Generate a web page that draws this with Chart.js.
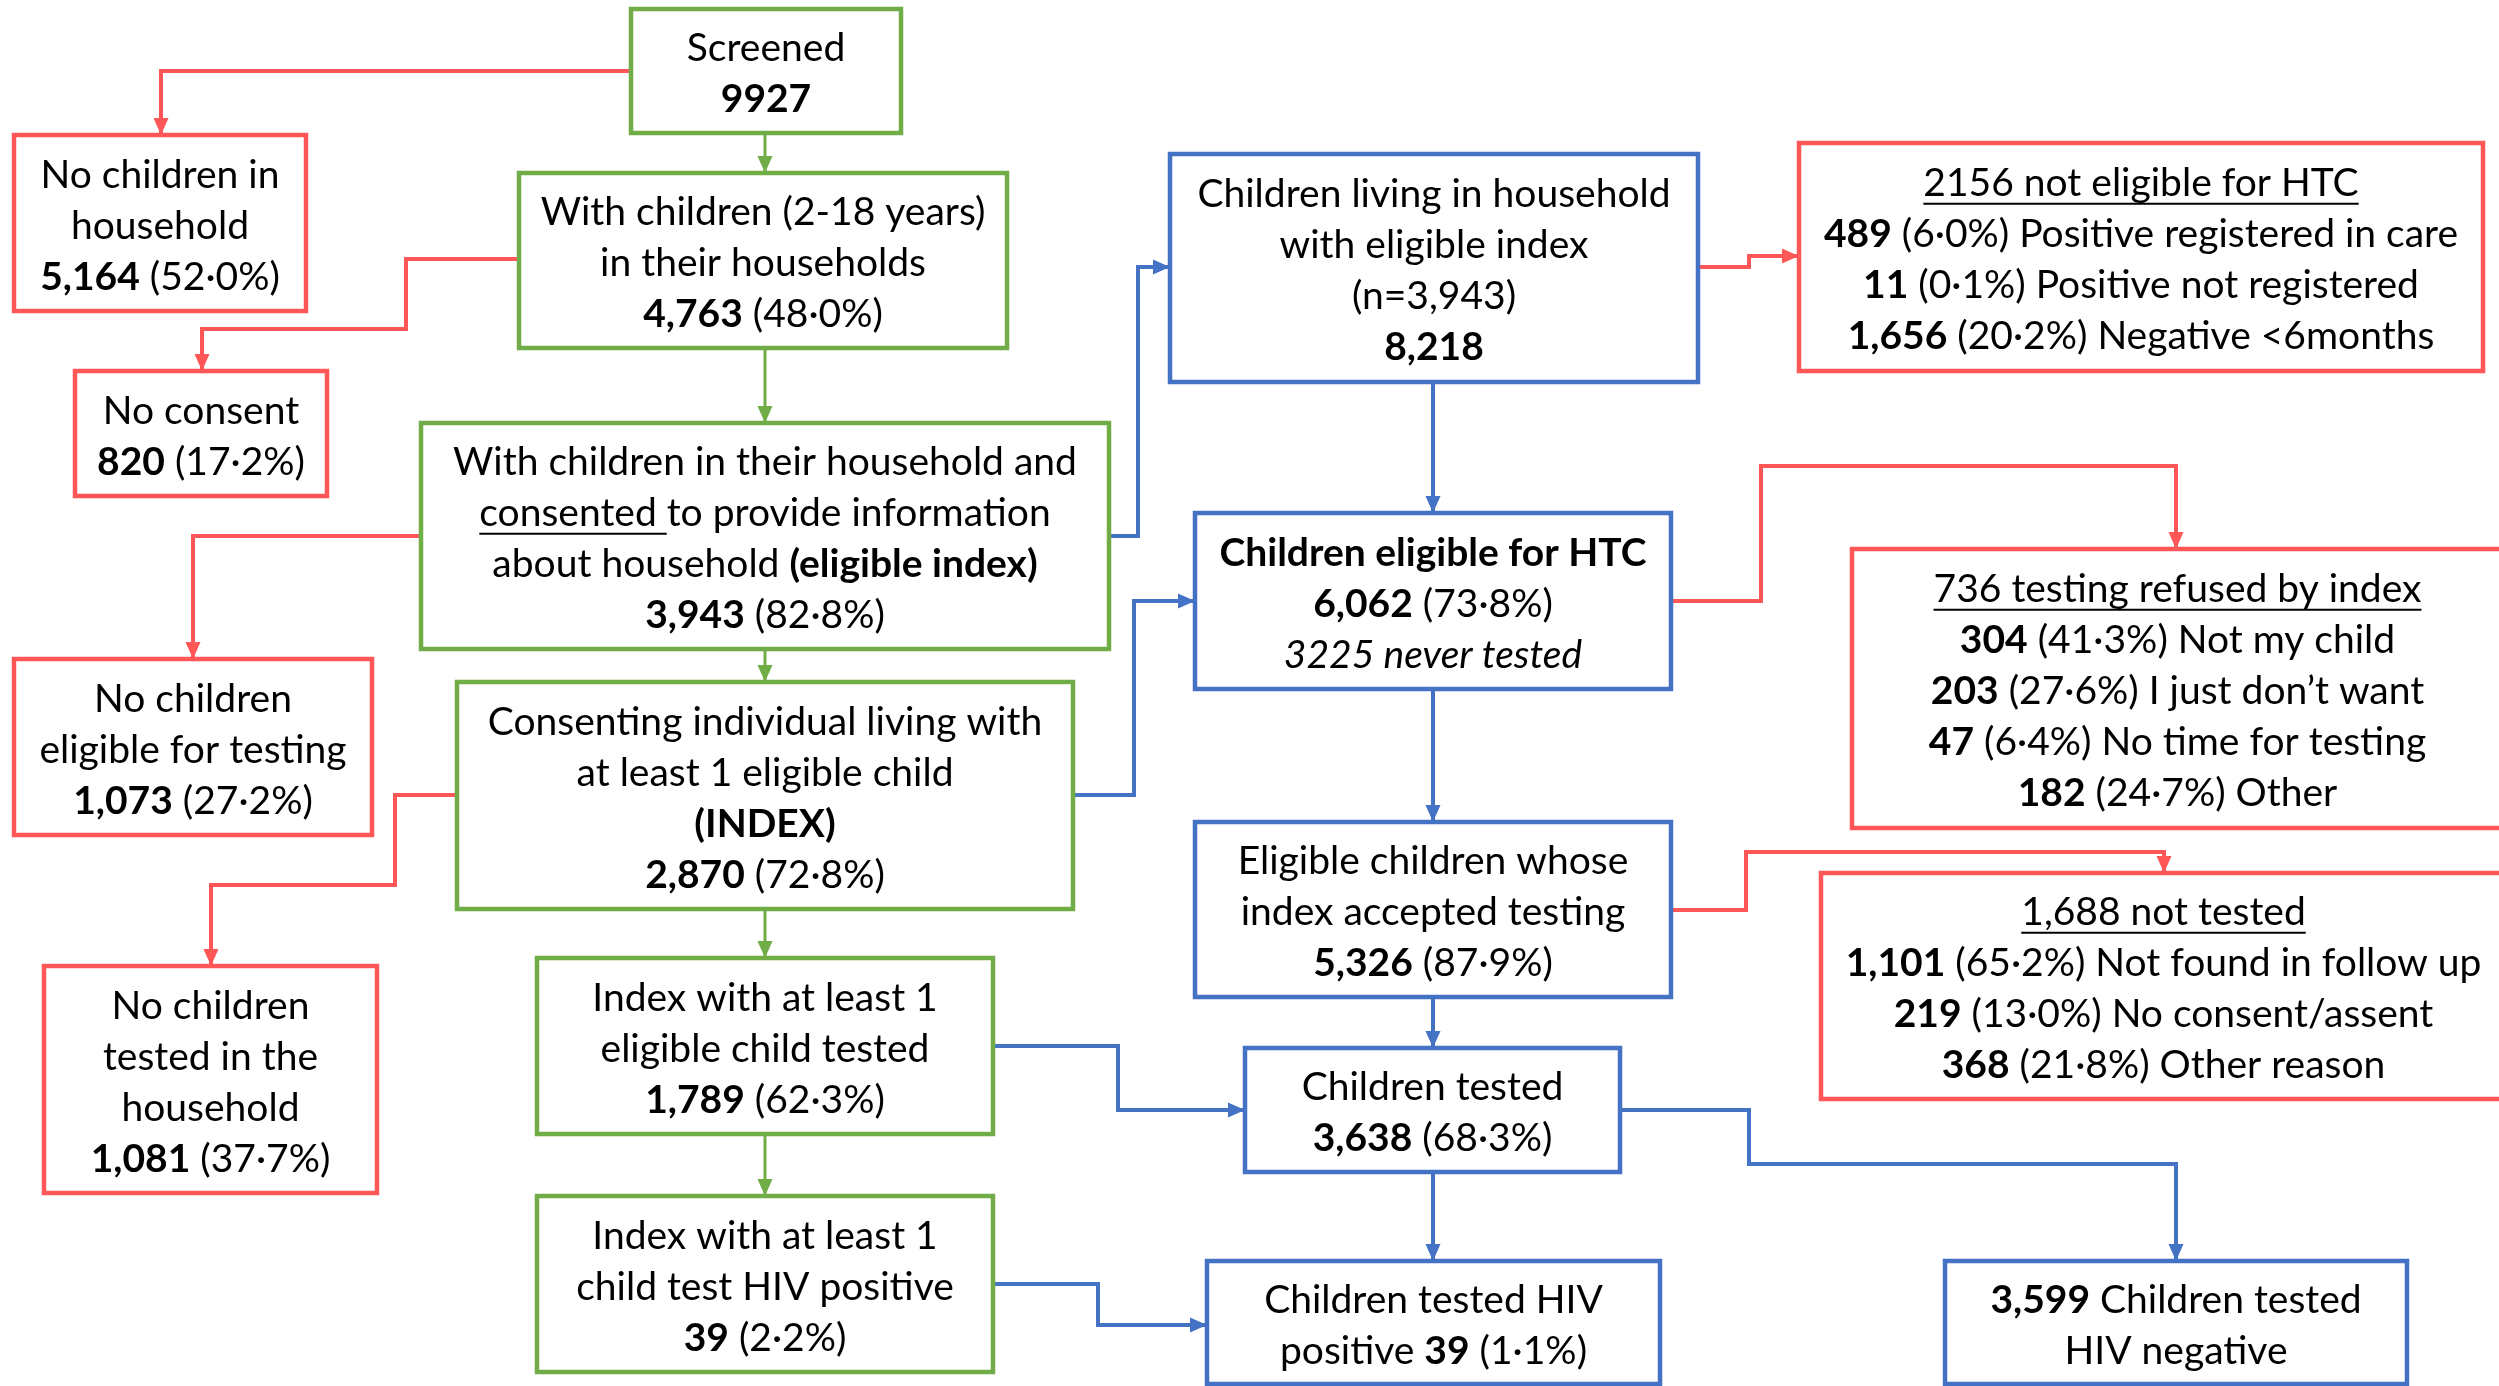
<!DOCTYPE html>
<html>
<head>
<meta charset="utf-8">
<script src="https://cdn.jsdelivr.net/npm/chart.js@4.4.0/dist/chart.umd.min.js"></script>
<style>
  html, body { margin: 0; padding: 0; background: #fff; overflow: hidden; }
  canvas { display: block; }
</style>
</head>
<body>
<canvas id="flow" width="2499" height="1386"></canvas>
<script>
// flowchart drawn on a scatter chart whose hidden axes span the whole page
const W = 2499, H = 1386;
const FONT = "Lato, 'Open Sans', sans-serif";
const FONT_SIZE = 39, LINE_H = 51, TEXT_SHIFT = 3;
const GREEN = '#70ad47', RED = '#ff5757', BLUE = '#4472c4';

// box texts: *bold*  _underline_  ~italic~
const boxText = [
  ['Screened', '*9927*'],
  ['No children in', 'household', '*5,164* (52·0%)'],
  ['With children (2-18 years)', 'in their households', '*4,763* (48·0%)'],
  ['No consent', '*820* (17·2%)'],
  ['With children in their household and', '_consented _to provide information', 'about household *(eligible index)*', '*3,943* (82·8%)'],
  ['No children', 'eligible for testing', '*1,073* (27·2%)'],
  ['Consenting individual living with', 'at least 1 eligible child', '*(INDEX)*', '*2,870* (72·8%)'],
  ['No children', 'tested in the', 'household', '*1,081* (37·7%)'],
  ['Index with at least 1', 'eligible child tested', '*1,789* (62·3%)'],
  ['Index with at least 1', 'child test HIV positive', '*39* (2·2%)'],
  ['Children living in household', 'with eligible index', '(n=3,943)', '*8,218*'],
  ['_2156 not eligible for HTC_', '*489* (6·0%) Positive registered in care', '*11* (0·1%) Positive not registered', '*1,656* (20·2%) Negative <6months'],
  ['*Children eligible for HTC*', '*6,062* (73·8%)', '~3225 never tested~'],
  ['_736 testing refused by index_', '*304* (41·3%) Not my child', '*203* (27·6%) I just don’t want', '*47* (6·4%) No time for testing', '*182* (24·7%) Other'],
  ['Eligible children whose', 'index accepted testing', '*5,326* (87·9%)'],
  ['_1,688 not tested_', '*1,101* (65·2%) Not found in follow up', '*219* (13·0%) No consent/assent', '*368* (21·8%) Other reason'],
  ['Children tested', '*3,638* (68·3%)'],
  ['Children tested HIV', 'positive *39* (1·1%)'],
  ['*3,599* Children tested', 'HIV negative']
];

// [left, top, right, bottom] in axis units
const boxRect = [
  [631, 9, 901, 133],
  [14, 135, 306, 311],
  [519, 173, 1007, 348],
  [75, 371, 327, 496],
  [421, 423, 1109, 649],
  [14, 659, 372, 835],
  [457, 682, 1073, 909],
  [44, 966, 377, 1193],
  [537, 958, 993, 1134],
  [537, 1196, 993, 1372],
  [1170, 154, 1698, 382],
  [1799, 143, 2483, 371],
  [1195, 513, 1671, 689],
  [1852, 549, 2503, 828],
  [1195, 822, 1671, 997],
  [1821, 873, 2506, 1099],
  [1245, 1048, 1620, 1172],
  [1207, 1261, 1660, 1384],
  [1945, 1261, 2407, 1384]
];
const boxColor = [GREEN, RED, GREEN, RED, GREEN, RED, GREEN, RED, GREEN, GREEN,
  BLUE, RED, BLUE, RED, BLUE, RED, BLUE, BLUE, BLUE];

// connectors, last point is the arrow tip
const links = [
  [[631, 71], [161, 71], [161, 135]],
  [[519, 259], [406, 259], [406, 329], [202, 329], [202, 371]],
  [[421, 536], [193, 536], [193, 659]],
  [[457, 795], [395, 795], [395, 885], [211, 885], [211, 966]],
  [[1698, 267], [1749, 267], [1749, 256], [1799, 256]],
  [[1671, 601], [1761, 601], [1761, 466], [2176, 466], [2176, 549]],
  [[1671, 910], [1746, 910], [1746, 852], [2164, 852], [2164, 873]],
  [[765, 133], [765, 173]],
  [[765, 348], [765, 423]],
  [[765, 649], [765, 682]],
  [[765, 909], [765, 958]],
  [[765, 1134], [765, 1196]],
  [[1109, 536], [1138, 536], [1138, 267], [1170, 267]],
  [[1073, 795], [1134, 795], [1134, 601], [1195, 601]],
  [[1433, 382], [1433, 513]],
  [[1433, 689], [1433, 822]],
  [[1433, 997], [1433, 1048]],
  [[993, 1046], [1118, 1046], [1118, 1110], [1245, 1110]],
  [[1433, 1172], [1433, 1261]],
  [[1620, 1110], [1749, 1110], [1749, 1164], [2176, 1164], [2176, 1261]],
  [[993, 1284], [1098, 1284], [1098, 1325], [1207, 1325]]
];
const linkColor = [RED, RED, RED, RED, RED, RED, RED,
  GREEN, GREEN, GREEN, GREEN, GREEN,
  BLUE, BLUE, BLUE, BLUE, BLUE, BLUE, BLUE, BLUE, BLUE];

function parseLine(s){
  const segs = [];
  let b = false, u = false, it = false, cur = '';
  const push = () => { if (cur) segs.push({t: cur, b, u, it}); cur = ''; };
  for (const ch of s){
    if (ch === '*'){ push(); b = !b; }
    else if (ch === '_'){ push(); u = !u; }
    else if (ch === '~'){ push(); it = !it; }
    else cur += ch;
  }
  push();
  return segs;
}

function segFont(sg){
  return (sg.it ? 'italic ' : '') + (sg.b ? 'bold ' : '') + FONT_SIZE + 'px ' + FONT;
}

const flowPlugin = {
  id: 'flow',
  afterDatasetsDraw(chart){
    const {ctx, scales:{x, y}} = chart;
    ctx.save();
    // arrow heads
    links.forEach((pts, i) => {
      const a = pts[pts.length - 2], b = pts[pts.length - 1];
      const x1 = x.getPixelForValue(a[0]), y1 = y.getPixelForValue(a[1]);
      const x2 = x.getPixelForValue(b[0]), y2 = y.getPixelForValue(b[1]);
      const ang = Math.atan2(y2 - y1, x2 - x1);
      const len = 17, half = 7.5;
      ctx.fillStyle = linkColor[i];
      ctx.beginPath();
      ctx.moveTo(x2, y2);
      ctx.lineTo(x2 - len*Math.cos(ang) + half*Math.sin(ang), y2 - len*Math.sin(ang) - half*Math.cos(ang));
      ctx.lineTo(x2 - len*Math.cos(ang) - half*Math.sin(ang), y2 - len*Math.sin(ang) + half*Math.cos(ang));
      ctx.closePath();
      ctx.fill();
    });
    // boxes
    boxRect.forEach((r, i) => {
      const l = x.getPixelForValue(r[0]), t = y.getPixelForValue(r[1]);
      const rr = x.getPixelForValue(r[2]), bb = y.getPixelForValue(r[3]);
      ctx.fillStyle = '#fff';
      ctx.fillRect(l, t, rr - l, bb - t);
      ctx.strokeStyle = boxColor[i];
      ctx.lineWidth = 4.5;
      ctx.strokeRect(l, t, rr - l, bb - t);
      const lines = boxText[i];
      const cx = (l + rr) / 2, cy = (t + bb) / 2 + TEXT_SHIFT;
      ctx.fillStyle = '#000';
      ctx.strokeStyle = '#000';
      ctx.textBaseline = 'middle';
      ctx.textAlign = 'left';
      lines.forEach((ln, k) => {
        const ly = cy + (k - (lines.length - 1) / 2) * LINE_H;
        const segs = parseLine(ln);
        let total = 0;
        segs.forEach(sg => { ctx.font = segFont(sg); sg.w = ctx.measureText(sg.t).width; total += sg.w; });
        let px = cx - total / 2;
        segs.forEach(sg => {
          ctx.font = segFont(sg);
          ctx.fillText(sg.t, px, ly);
          if (sg.u){
            ctx.lineWidth = 2;
            ctx.beginPath();
            ctx.moveTo(px, ly + FONT_SIZE * 0.52);
            ctx.lineTo(px + sg.w, ly + FONT_SIZE * 0.52);
            ctx.stroke();
          }
          px += sg.w;
        });
      });
    });
    ctx.restore();
  }
};

new Chart(document.getElementById('flow'), {
  type: 'scatter',
  data: {
    datasets: links.map((pts, i) => ({
      data: pts.map(p => ({x: p[0], y: p[1]})),
      showLine: true,
      borderColor: linkColor[i],
      borderWidth: linkColor[i] === GREEN ? 3 : 4,
      pointRadius: 0,
      fill: false,
      tension: 0,
      clip: false
    }))
  },
  options: {
    responsive: false,
    animation: false,
    events: [],
    layout: { padding: 0 },
    plugins: { legend: { display: false }, tooltip: { enabled: false } },
    scales: {
      x: { type: 'linear', min: 0, max: W, display: false },
      y: { type: 'linear', min: 0, max: H, reverse: true, display: false }
    }
  },
  plugins: [flowPlugin]
});
</script>
</body>
</html>
